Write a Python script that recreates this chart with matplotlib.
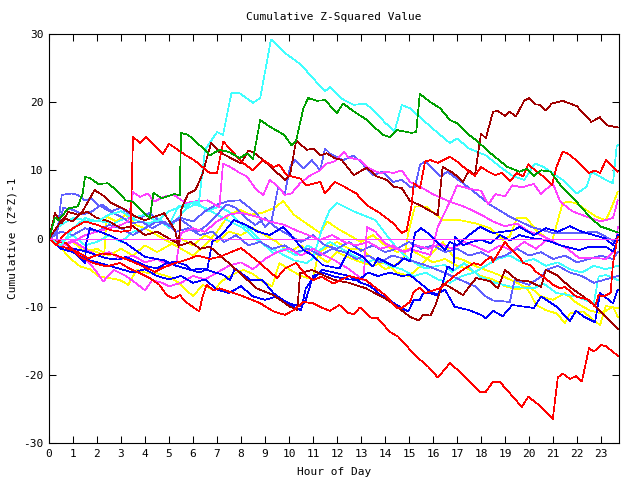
import matplotlib
matplotlib.use("Agg")
import matplotlib.pyplot as plt

title = "Cumulative Z-Squared Value"
xlabel = "Hour of Day"
ylabel = "Cumulative (Z*Z)-1"
x_ticks = list(range(0, 24))
y_ticks = [-30, -20, -10, 0, 10, 20, 30]

green_1 = [(0,0),(0.25,3.1),(0.4,2.7),(0.8,4.4),(1.2,4.7),(1.4,6.6),(1.5,9),(1.7,8.9),(2.05,8.0),(2.45,8.1),(2.7,7.4),(3.2,5.6),(3.5,5.4),(3.9,3.9),(4.2,3.0),(4.35,6.7),(4.7,5.9),(5.2,6.5),(5.45,6.4),(5.5,15.5),(5.8,15.2),(6.4,13.3),(6.7,12.2),(7.1,13),(7.5,12.7),(7.95,11.8),(8.25,12.5),(8.5,11.6),(8.8,17.4),(9.2,16.4),(9.8,15.2),(10.1,13.7),(10.3,14.4),(10.6,19.1),(10.8,20.6),(11.15,20.2),(11.5,20.3),(12.0,18.4),(12.25,19.8),(12.8,18.4),(13.25,17.4),(13.9,15.2),(14.2,14.9),(14.5,15.9),(15.1,15.5),(15.3,15.6),(15.45,21.2),(15.9,20),(16.3,19.1),(16.7,17.4),(17.0,16.9),(17.5,15.2),(17.8,14.4),(18.5,12.2),(19.1,10.5),(19.6,9.8),(19.9,10.2),(20.2,9.2),(20.5,10),(20.9,9.8),(21.4,7.4),(21.8,6.1),(22.4,3.7),(22.95,1.8),(23.7,0.9)]

cyan_1 = [(0,0),(0.5,-1),(1,1.5),(1.5,3),(2,2.5),(2.5,3.5),(3,4),(3.5,3),(4,3.5),(4.5,2.5),(5,4),(5.45,4.6),(6.0,5.3),(6.25,5.4),(6.5,13),(7.0,15.6),(7.25,15.2),(7.6,21.3),(7.95,21.3),(8.5,19.9),(8.8,20.6),(9.25,29.2),(9.8,27.3),(10.5,25.5),(11.0,23.5),(11.5,21.6),(11.7,22.2),(12.2,20.5),(12.7,19.6),(13.2,19.8),(13.6,18.5),(14.0,17.0),(14.4,15.7),(14.7,19.6),(15.04,19.1),(15.9,16.4),(16.7,14.0),(17.0,14.7),(17.5,13.2),(18.2,12.2),(18.8,10.5),(19.35,9.1),(19.8,8.6),(20.25,11.0),(20.6,10.5),(21.4,8.6),(22.0,6.6),(22.4,7.6),(22.6,9.8),(23.2,8.6),(23.5,8.1),(23.65,13.5),(23.7,13.7)]

cyan_2 = [(0,0),(0.3,1.5),(0.6,2.2),(1.0,3.0),(1.35,2.8),(1.7,2.5),(2.2,2.5),(2.7,2.2),(3.0,2.7),(3.3,3.0),(3.8,2.5),(4.2,2.2),(4.6,2.8),(5.0,1.5),(5.5,3.5),(5.9,5.2),(6.5,4.5),(7.26,3.0),(8.1,1.5),(8.65,-0.2),(9.5,-1.9),(10.2,-3.2),(10.74,-3.6),(11.0,-2.9),(11.4,1.7),(11.7,4.2),(12.0,5.2),(12.75,3.9),(13.6,2.7),(14.0,0.8),(14.4,-1.0),(14.8,-2.4),(15.25,-3.6),(15.67,-4.4),(16.2,-4.0),(16.5,-3.9),(16.8,-4.9),(17.3,-3.6),(17.96,-5.6),(18.6,-6.5),(19.3,-7.1),(20.2,-7.3),(20.6,-6.6),(21.15,-8.0),(21.96,-8.5),(22.7,-9.5),(22.9,-5.6),(23.2,-5.35),(23.7,-6.1)]

cyan_3 = [(0,0),(0.5,-0.5),(1,0.5),(1.5,-1),(2,-0.5),(2.5,0.5),(3,-0.5),(3.5,1.0),(4,1.5),(4.5,3.0),(5.0,2.0),(5.4,4.8),(5.8,4.5),(6.2,5.2),(6.6,4.0),(7.1,4.7),(7.5,3.9),(7.96,2.2),(8.4,1.2),(8.9,-0.7),(9.35,-2.2),(9.8,-1.5),(10.3,-2.5),(10.8,-1.0),(11.2,-2.0),(11.7,-0.5),(12.2,-1.5),(12.7,-2.5),(13.2,-3.5),(13.7,-3.0),(14.2,-4.0),(14.7,-4.5),(15.2,-5.5),(15.7,-5.0),(16.2,-6.0),(16.7,-6.5),(17.2,-5.5),(17.7,-5.0),(18.2,-4.0),(18.7,-3.0),(19.2,-2.5),(19.7,-3.5),(20.2,-3.0),(20.7,-4.0),(21.2,-3.5),(21.7,-4.5),(22.2,-5.0),(22.7,-4.0),(23.2,-4.5),(23.7,-4.0)]

darkred_1 = [(0,0),(0.3,1.5),(0.6,3.0),(1.0,2.5),(1.4,4.0),(1.9,7.1),(2.3,6.2),(2.6,5.2),(3.2,4.2),(3.6,3.2),(4.0,2.7),(4.4,3.2),(4.8,3.7),(5.25,1.2),(5.4,-1.2),(5.5,4.2),(5.8,6.6),(6.1,7.1),(6.4,9.5),(6.75,14.0),(7.1,12.7),(8.0,11.0),(8.3,12.9),(8.5,12.7),(8.93,11.5),(9.83,8.6),(10.04,9.3),(10.3,14.4),(10.74,13.0),(11.0,13.2),(11.3,12.2),(11.57,12.5),(11.9,11.8),(12.2,11.5),(12.7,9.3),(13.24,10.4),(13.65,9.1),(14.07,8.6),(14.35,7.6),(14.7,7.4),(15.04,5.5),(15.4,5.0),(16.2,3.4),(16.4,10.5),(16.85,9.6),(17.25,8.3),(17.5,10.0),(17.75,9.3),(18.0,15.4),(18.2,14.7),(18.5,18.6),(18.7,18.7),(19.0,18.0),(19.2,18.6),(19.45,17.9),(19.8,20.2),(20.0,20.6),(20.25,19.7),(20.45,19.6),(20.7,18.8),(20.95,19.8),(21.4,20.2),(22.0,19.4),(22.25,18.4),(22.6,17.1),(22.95,17.8),(23.25,16.6),(23.7,16.3)]

darkred_2 = [(0,0),(0.25,3.7),(0.53,2.2),(0.8,3.9),(1.2,3.5),(1.6,3.9),(2.0,3.0),(2.5,2.5),(3.0,1.5),(3.5,1.8),(4.0,0.5),(4.5,1.0),(5.0,0.0),(5.5,-1.0),(5.9,-0.5),(6.3,-1.5),(6.7,-1.2),(7.3,-3.0),(7.96,-5.1),(8.65,-7.3),(9.35,-8.3),(10.04,-10.0),(10.35,-10.5),(10.46,-5.1),(10.95,-4.6),(11.5,-5.5),(11.9,-6.1),(12.5,-6.5),(13.2,-7.3),(14.1,-9.0),(14.5,-10.0),(15.04,-11.5),(15.4,-12.0),(15.6,-11.2),(15.9,-11.3),(16.1,-9.75),(16.4,-6.6),(16.7,-7.1),(17.25,-8.3),(17.5,-7.1),(17.8,-5.8),(18.4,-6.3),(18.7,-7.3),(19.0,-4.6),(19.5,-6.1),(20.0,-6.3),(20.5,-7.1),(20.7,-4.6),(21.15,-5.35),(21.7,-7.1),(22.26,-8.5),(22.8,-10.0),(23.4,-12.2),(23.7,-13.3)]

red_1 = [(0,0),(0.3,-1),(0.6,0.5),(1.0,1.5),(1.5,2.5),(2.0,2.0),(2.6,1.2),(3.0,1.0),(3.4,1.2),(3.5,14.9),(3.8,14.0),(4.05,14.9),(4.75,12.4),(5.0,13.9),(5.7,12.2),(6.05,11.5),(6.7,9.6),(7.0,9.6),(7.26,14.2),(7.54,13.2),(8.0,11.3),(8.5,10.0),(8.93,11.5),(9.35,10.5),(9.6,10.8),(9.9,9.3),(10.46,8.8),(10.74,7.8),(11.3,8.3),(11.5,6.6),(11.9,8.3),(12.2,7.8),(12.8,6.6),(13.24,4.9),(13.8,3.7),(14.35,2.2),(14.7,0.8),(14.9,1.2),(15.1,4.7),(15.2,8.1),(15.46,7.4),(15.67,11.3),(15.9,11.5),(16.2,11.1),(16.7,12.0),(17.0,11.3),(17.5,9.8),(17.75,9.2),(18.0,10.5),(18.3,9.8),(18.6,9.3),(18.86,9.6),(19.2,8.4),(19.5,9.6),(19.75,9.1),(19.97,10.9),(20.25,10.0),(20.6,9.1),(20.95,7.8),(21.15,10.5),(21.4,12.7),(21.6,12.5),(21.96,11.5),(22.25,10.5),(22.5,9.6),(22.75,10.0),(22.96,9.6),(23.2,11.5),(23.5,10.5),(23.7,9.8)]

red_2 = [(0,0),(0.3,-0.5),(0.74,-0.7),(1.3,-2.7),(1.85,-3.6),(2.4,-4.1),(2.96,-3.6),(3.4,-4.5),(3.8,-5.1),(4.2,-5.8),(4.6,-6.8),(4.9,-8.3),(5.2,-8.8),(5.45,-8.3),(5.7,-9.3),(6.26,-10.7),(6.4,-8.5),(6.57,-6.8),(6.85,-7.6),(7.1,-7.3),(7.5,-7.8),(7.96,-8.3),(8.8,-9.5),(9.35,-10.7),(9.83,-11.2),(10.2,-10.5),(10.6,-9.3),(11.0,-9.5),(11.4,-10.2),(11.7,-10.6),(12.1,-9.75),(12.47,-10.9),(12.7,-11.1),(12.96,-10.1),(13.4,-11.6),(13.7,-11.7),(14.2,-13.7),(14.55,-14.4),(15.3,-17.3),(15.8,-18.8),(16.2,-20.4),(16.7,-18.3),(17.1,-19.5),(17.96,-22.5),(18.2,-22.5),(18.5,-21.0),(18.8,-21.1),(19.7,-24.7),(19.97,-23.2),(20.4,-24.4),(20.99,-26.5),(21.2,-20.4),(21.4,-19.8),(21.7,-20.6),(21.96,-20.2),(22.2,-21.0),(22.5,-16.1),(22.7,-16.6),(23.0,-15.6),(23.2,-15.8),(23.7,-17.2)]

red_3 = [(0,0),(0.4,-1.0),(0.8,-1.5),(1.2,-2.0),(1.64,-2.9),(2.2,-2.2),(2.75,-2.4),(3.2,-3.0),(3.6,-3.6),(4.0,-4.2),(4.4,-4.9),(4.8,-4.2),(5.25,-3.6),(5.67,-3.2),(6.2,-2.5),(6.7,-3.0),(7.1,-2.7),(8.0,-1.4),(8.65,-3.2),(9.5,-5.8),(9.83,-4.4),(10.3,-3.6),(10.7,-5.35),(11.0,-6.1),(11.35,-5.6),(11.85,-6.6),(12.5,-5.5),(13.2,-6.1),(14.0,-8.3),(14.5,-10.2),(14.7,-10.2),(15.04,-9.3),(15.2,-7.8),(15.46,-7.2),(15.67,-8.0),(16.3,-7.3),(16.85,-5.6),(17.25,-4.6),(17.7,-3.6),(18.0,-3.9),(18.2,-3.2),(18.4,-2.7),(18.5,-3.4),(19.0,-0.5),(19.2,-1.4),(19.6,-2.7),(19.76,-3.6),(20.04,-3.9),(20.3,-4.9),(20.6,-5.6),(21.0,-6.8),(21.3,-7.3),(21.5,-7.1),(21.96,-8.5),(22.5,-9.0),(22.75,-10.0),(22.9,-8.3),(23.1,-8.5),(23.4,-8.0),(23.5,-3.6),(23.7,0.3)]

magenta_1 = [(0,0),(0.5,-1.0),(1.0,-0.5),(1.5,0.5),(2.0,1.0),(2.5,1.5),(3.0,2.0),(3.3,2.5),(3.5,6.8),(3.8,6.1),(4.1,6.6),(4.4,5.4),(4.75,6.1),(5.2,6.4),(5.7,5.2),(6.2,5.5),(6.6,5.6),(6.8,5.2),(7.1,4.6),(7.25,11.0),(7.55,10.5),(7.96,9.6),(8.24,9.1),(8.65,7.1),(8.93,6.4),(9.2,8.6),(9.55,7.6),(9.83,6.4),(10.1,6.6),(10.46,8.1),(10.9,9.3),(11.3,10.0),(11.57,11.0),(11.9,11.3),(12.3,12.7),(12.47,11.9),(12.96,11.5),(13.24,10.5),(13.5,10.0),(13.8,9.6),(14.07,9.8),(14.35,9.6),(14.7,10.0),(15.04,8.3),(15.46,7.6),(16.0,6.5),(16.7,5.4),(17.2,4.8),(17.6,4.2),(18.0,3.5),(18.5,2.5),(19.0,1.8),(19.5,2.2),(20.0,1.0),(20.5,0.5),(21.15,-0.7),(21.6,-1.5),(22.1,-2.9),(22.6,-2.8),(23.2,-3.0),(23.6,-1.7),(23.7,1.7)]

magenta_2 = [(0,0),(0.5,-0.5),(1.0,-1.5),(1.5,-3.0),(1.9,-4.5),(2.26,-6.3),(2.7,-4.6),(3.2,-5.5),(3.6,-6.5),(4.0,-7.6),(4.3,-6.1),(4.7,-6.5),(5.0,-7.0),(5.5,-6.5),(6.0,-5.5),(6.5,-6.0),(7.0,-5.0),(7.5,-4.0),(8.0,-3.5),(8.5,-4.5),(9.0,-3.0),(9.5,-2.0),(10.0,-1.5),(10.5,-2.5),(11.0,-1.5),(11.5,-2.5),(11.9,-3.2),(12.5,-4.5),(13.1,-6.1),(13.25,1.7),(13.6,1.0),(14.0,-0.7),(14.7,-1.9),(15.2,-1.7),(15.9,-2.4),(16.2,1.7),(16.8,6.1),(17.0,7.8),(17.5,7.3),(18.0,7.0),(18.3,5.0),(18.6,6.5),(19.0,6.2),(19.3,7.8),(19.7,7.5),(20.2,8.0),(20.5,6.5),(20.8,7.5),(21.0,8.0),(21.3,5.4),(21.8,4.0),(22.4,3.2),(23.0,2.5),(23.5,3.0),(23.7,5.6)]

magenta_3 = [(0,0),(0.5,-1.0),(1.0,-0.3),(1.5,-1.5),(2.0,-2.5),(2.5,-2.0),(3.0,-3.0),(3.5,-2.5),(4.0,-3.5),(4.5,-3.0),(5.0,-4.0),(5.3,-3.6),(5.5,0.8),(6.0,1.5),(6.5,1.0),(7.0,2.5),(7.5,3.5),(8.0,3.8),(8.65,3.2),(9.2,2.5),(9.8,2.0),(10.3,1.2),(10.8,0.5),(11.3,-0.2),(11.8,0.5),(12.3,-0.5),(12.8,-1.0),(13.3,-0.5),(13.8,-1.5),(14.3,-1.0),(14.8,-2.0),(15.3,-1.0),(15.8,-1.5),(16.3,-0.8),(16.8,-1.5),(17.3,-0.5),(17.8,-1.2),(18.3,-2.0),(18.8,-1.0),(19.3,-1.8),(19.8,-0.5),(20.3,-1.5),(20.7,-0.3),(21.15,-0.7),(21.6,-1.5),(22.1,-2.9),(22.6,-2.8),(23.2,-3.0),(23.6,-1.7),(23.7,1.7)]

lightblue_1 = [(0,0),(0.5,1.0),(1.0,0.5),(1.5,1.5),(2.0,1.0),(2.5,2.0),(3.0,1.5),(3.5,0.5),(4.0,1.5),(4.5,2.5),(5.0,2.0),(5.5,3.0),(6.0,2.5),(6.5,4.0),(7.0,5.0),(7.5,5.5),(7.96,5.6),(8.65,3.7),(9.0,1.7),(9.28,2.7),(9.55,7.6),(9.83,6.6),(10.04,10.5),(10.25,11.5),(10.6,10.3),(10.95,11.5),(11.3,10.0),(11.5,13.2),(11.7,12.5),(12.26,11.5),(12.7,12.2),(13.1,10.8),(13.5,9.3),(13.9,9.8),(14.35,8.3),(14.7,8.6),(15.04,7.6),(15.25,7.6),(15.46,10.8),(15.67,11.3),(16.3,9.1),(16.6,9.8),(17.25,8.1),(17.8,6.6),(18.4,4.9),(19.2,3.2),(20.1,1.7),(21.0,0.8),(22.1,0.8),(22.8,1.0),(23.6,-0.5),(23.7,-0.3)]

lightblue_2 = [(0,0),(0.3,-0.5),(0.53,6.4),(0.95,6.6),(1.2,6.4),(1.5,5.6),(1.78,5.9),(2.05,4.9),(2.6,3.9),(3.0,3.2),(3.45,2.2),(3.86,2.5),(4.3,1.5),(4.8,2.5),(5.3,1.0),(5.8,1.5),(6.3,0.5),(6.8,1.0),(7.3,-0.5),(7.8,0.5),(8.3,-1.0),(8.8,-0.5),(9.3,-1.5),(9.8,-1.0),(10.3,-2.0),(10.8,-1.5),(11.3,-2.5),(11.8,-1.5),(12.3,-2.0),(12.8,-3.0),(13.3,-2.5),(13.8,-3.5),(14.3,-2.5),(15.04,-3.2),(15.6,-3.8),(16.4,-4.9),(17.1,-6.0),(17.8,-7.1),(18.2,-8.5),(18.5,-9.1),(19.2,-9.3),(19.4,-6.1),(20.0,-6.8),(20.6,-5.35),(20.7,-4.6),(21.2,-4.0),(21.7,-5.0),(22.2,-5.5),(22.7,-6.5),(23.2,-6.0),(23.7,-5.5)]

lightblue_3 = [(0,0),(0.3,1.0),(0.6,4.5),(1.0,4.2),(1.4,3.5),(1.8,4.0),(2.2,5.0),(2.6,4.0),(3.0,4.5),(3.4,3.5),(3.8,3.0),(4.2,3.8),(4.6,2.5),(5.0,2.0),(5.4,3.0),(5.8,2.0),(6.2,1.0),(6.6,2.0),(7.0,3.5),(7.4,5.0),(7.8,4.5),(8.2,3.0),(8.6,2.0),(9.0,3.0),(9.5,1.5),(10.0,0.5),(10.5,-0.5),(11.0,0.5),(11.5,-1.0),(12.0,-1.5),(12.5,-0.5),(13.0,-1.8),(13.5,-1.0),(14.0,-2.0),(14.5,-1.5),(15.0,-0.5),(15.5,-1.5),(16.0,-1.0),(16.5,-2.0),(17.0,-1.5),(17.5,-2.5),(18.0,-2.0),(18.5,-3.0),(19.0,-2.5),(19.5,-1.5),(20.0,-2.5),(20.5,-2.0),(21.0,-3.0),(21.5,-2.5),(22.0,-3.5),(22.5,-3.0),(23.0,-2.5),(23.5,-3.0),(23.7,-2.0)]

yellow_1 = [(0,0),(0.5,-1.0),(1.0,-0.5),(1.5,-2.0),(2.0,-1.5),(2.5,-2.5),(3.0,-1.5),(3.5,-2.5),(4.0,-1.0),(4.5,-2.0),(5.0,-1.0),(5.5,0.0),(6.0,-1.0),(6.5,0.5),(7.0,-0.5),(7.5,1.0),(8.0,0.5),(8.5,1.5),(9.0,0.5),(9.5,-0.5),(10.0,-2.0),(10.5,-1.0),(11.0,-2.5),(11.5,-1.5),(12.0,-0.5),(12.5,-1.5),(13.0,-1.5),(13.5,-3.0),(14.0,-4.5),(14.4,-4.0),(14.8,-2.7),(14.97,0.8),(15.25,4.7),(15.7,4.7),(16.4,2.7),(17.1,2.7),(17.8,2.2),(18.4,1.5),(18.9,-0.2),(19.2,0.3),(19.5,3.0),(19.9,3.0),(20.3,1.2),(20.95,-0.5),(21.3,3.9),(21.4,5.2),(21.6,5.4),(21.96,5.2),(22.8,3.2),(23.2,2.7),(23.4,4.2),(23.7,6.9)]

yellow_2 = [(0,0),(0.4,-1.0),(0.875,-2.9),(1.3,-4.1),(1.7,-4.5),(2.1,-5.6),(2.5,-5.8),(2.96,-6.1),(3.3,-6.8),(3.65,-4.6),(4.0,-5.0),(4.5,-5.1),(5.0,-5.6),(5.45,-6.6),(6.0,-8.5),(6.4,-6.8),(6.85,-7.6),(7.26,-6.1),(7.7,-5.2),(8.1,-4.6),(8.5,-5.2),(8.9,-6.3),(9.3,-7.0),(9.6,-3.6),(10.0,-4.5),(10.5,-5.5),(11.0,-6.0),(11.2,-2.5),(11.6,-3.5),(12.0,-2.0),(12.5,-2.8),(13.0,-3.5),(13.5,-4.0),(14.0,-3.5),(14.5,-5.0),(15.0,-5.5),(15.5,-4.0),(16.0,-2.0),(16.4,-0.5),(16.85,-2.7),(17.3,-3.2),(17.8,-4.1),(18.5,-5.0),(19.07,-5.8),(19.5,-6.5),(19.9,-7.3),(20.04,-8.0),(20.3,-9.75),(20.7,-10.5),(21.15,-11.0),(21.5,-12.4),(21.7,-11.0),(22.26,-10.7),(22.7,-12.0),(22.96,-12.7),(23.2,-9.9),(23.7,-10.2)]

yellow_3 = [(0,0),(0.5,-1.0),(1.0,-0.5),(1.5,-1.5),(2.0,-2.0),(2.3,-2.5),(2.4,3.2),(2.8,2.5),(3.2,3.5),(3.6,2.0),(4.0,1.5),(4.5,0.5),(5.0,-0.5),(5.5,-1.5),(6.0,-2.5),(6.5,-1.0),(7.0,1.0),(7.5,3.5),(7.96,4.2),(8.4,3.5),(8.9,3.8),(9.4,4.5),(9.76,5.5),(10.2,3.5),(10.6,2.5),(11.3,0.8),(11.6,2.5),(12.0,1.5),(12.5,0.5),(13.0,-0.5),(13.5,0.5),(14.0,-1.0),(14.5,-2.0),(15.0,-1.5),(15.5,-2.5),(16.0,-3.5),(16.5,-3.0),(17.0,-4.0),(17.5,-4.5),(18.0,-5.5),(18.5,-6.0),(19.0,-7.0),(19.5,-7.5),(20.0,-7.0),(20.5,-8.5),(21.0,-9.0),(21.5,-8.0),(22.0,-9.5),(22.5,-10.5),(23.0,-11.0),(23.5,-10.0),(23.7,-11.5)]

blue_1 = [(0,0),(0.5,-1.2),(1.3,-1.7),(1.8,-2.2),(2.4,-2.9),(2.9,-3.1),(3.2,-2.7),(3.65,-3.4),(4.1,-4.1),(4.5,-4.4),(4.9,-3.6),(5.3,-3.4),(5.7,-3.9),(5.9,-4.6),(6.4,-4.4),(7.26,-5.35),(7.54,-6.1),(7.75,-4.4),(8.4,-6.1),(8.9,-6.1),(9.35,-8.0),(9.9,-9.5),(10.3,-10.2),(10.5,-10.5),(10.7,-7.3),(10.95,-6.1),(11.4,-4.6),(12.0,-5.1),(12.5,-5.5),(13.0,-6.5),(13.4,-7.0),(13.7,-8.0),(14.7,-10.2),(14.97,-10.7),(15.2,-9.0),(15.45,-9.0),(15.6,-8.0),(15.9,-8.0),(16.1,-8.3),(16.5,-7.5),(16.9,-10.0),(17.5,-10.5),(18.0,-11.2),(18.2,-11.7),(18.5,-10.6),(18.9,-11.4),(19.3,-9.75),(20.2,-10.2),(20.5,-8.5),(21.15,-10),(21.7,-12.1),(21.96,-10.6),(22.3,-11.5),(22.75,-12.3),(22.96,-8.0),(23.5,-9.5),(23.7,-7.5)]

blue_2 = [(0,0),(0.5,-1.5),(1.0,-2.0),(1.5,-3.0),(2.0,-3.5),(2.5,-4.0),(3.0,-4.5),(3.5,-5.0),(4.0,-4.5),(4.5,-5.5),(5.0,-6.0),(5.5,-5.5),(6.0,-6.5),(6.5,-6.0),(7.0,-7.5),(7.5,-8.0),(8.0,-7.0),(8.5,-8.5),(9.0,-9.0),(9.5,-8.5),(10.0,-9.5),(10.5,-10.0),(10.7,-9.0),(11.0,-5.5),(11.4,-5.0),(11.9,-5.6),(12.5,-6.0),(12.9,-6.1),(13.3,-5.0),(13.7,-5.5),(14.2,-5.0),(14.7,-5.5),(15.04,-5.35),(15.9,-7.8),(16.2,-8.3),(16.4,-6.6),(16.6,-4.1),(16.85,-4.6),(16.9,0.3),(17.25,-1.0),(17.6,-0.5),(18.0,-0.2),(18.4,-0.7),(18.8,0.5),(19.2,-0.3),(19.6,0.5),(20.2,0.0),(20.7,-0.2),(21.3,-1.0),(22.1,-1.7),(22.5,-1.2),(23.2,-1.2),(23.5,-1.9),(23.7,-0.2)]

blue_3 = [(0,0),(0.4,-1.0),(0.8,-1.5),(1.2,-2.5),(1.5,-3.6),(1.55,-0.7),(1.7,1.5),(2.5,0.5),(3.2,-0.7),(4.0,-2.7),(4.8,-3.2),(5.3,-4.0),(5.8,-4.5),(6.3,-5.0),(6.6,-4.4),(6.8,-0.5),(7.26,0.8),(7.7,2.7),(8.2,2.0),(8.7,1.0),(9.2,0.5),(9.76,1.7),(10.2,0.0),(10.6,-1.7),(11.0,-2.5),(11.4,-3.9),(12.1,-4.4),(12.5,-1.7),(13.0,-2.5),(13.5,-4.1),(13.7,-2.9),(14.4,-4.1),(14.8,-2.9),(15.04,-3.4),(15.25,0.8),(15.5,1.5),(15.9,0.5),(16.2,-0.7),(16.5,-1.7),(16.7,-0.5),(17.0,-1.0),(17.5,0.5),(17.96,1.7),(18.5,0.8),(19.35,1.2),(19.6,1.7),(20.2,0.5),(20.7,1.5),(21.2,1.0),(21.7,1.8),(22.2,1.0),(22.7,0.5),(23.2,0.0),(23.5,-1.0),(23.7,0.5)]

zero_level = 0.0

RED = "#ff0000"
GREEN = "#00a000"
BLUE = "#0000ff"
MAGENTA = "#ff40ff"
CYAN = "#40ffff"
DARKRED = "#a00000"
YELLOW = "#ffff00"
LIGHTBLUE = "#5f5fff"

series = [
    (yellow_2, YELLOW), (yellow_3, YELLOW), (yellow_1, YELLOW),
    (cyan_3, CYAN), (cyan_2, CYAN),
    (lightblue_3, LIGHTBLUE), (lightblue_2, LIGHTBLUE), (lightblue_1, LIGHTBLUE),
    (magenta_3, MAGENTA), (magenta_2, MAGENTA), (magenta_1, MAGENTA),
    (blue_2, BLUE), (blue_3, BLUE), (blue_1, BLUE),
    (darkred_2, DARKRED), (red_3, RED), (red_2, RED),
    (cyan_1, CYAN), (darkred_1, DARKRED), (red_1, RED), (green_1, GREEN),
]

mono = "DejaVu Sans Mono"
fig = plt.figure(figsize=(6.4, 4.8), dpi=100)
ax = fig.add_axes([49/640, 1 - 443/480, (619 - 49)/640, (443 - 34)/480])

for pts, col in series:
    xs = [p[0] for p in pts]
    ys = [p[1] for p in pts]
    ax.plot(xs, ys, color=col, lw=0.5, antialiased=False)

ax.axhline(zero_level, color=MAGENTA, lw=0.5, antialiased=False)

ax.set_xlim(0, 23.75)
ax.set_ylim(-30, 30)
ax.set_xticks(x_ticks)
ax.set_yticks(y_ticks)
ax.set_xticklabels([str(t) for t in x_ticks], fontfamily=mono, fontsize=8)
ax.set_yticklabels([str(t) for t in y_ticks], fontfamily=mono, fontsize=8)
ax.tick_params(direction="in", length=5, width=0.75, top=True, right=True, pad=4)
for s in ax.spines.values():
    s.set_linewidth(0.8)
ax.set_title(title, fontfamily=mono, fontsize=8, pad=10)
ax.set_xlabel(xlabel, fontfamily=mono, fontsize=8, labelpad=6)
ax.set_ylabel(ylabel, fontfamily=mono, fontsize=8, labelpad=4)

fig.savefig("out.png", dpi=100)
